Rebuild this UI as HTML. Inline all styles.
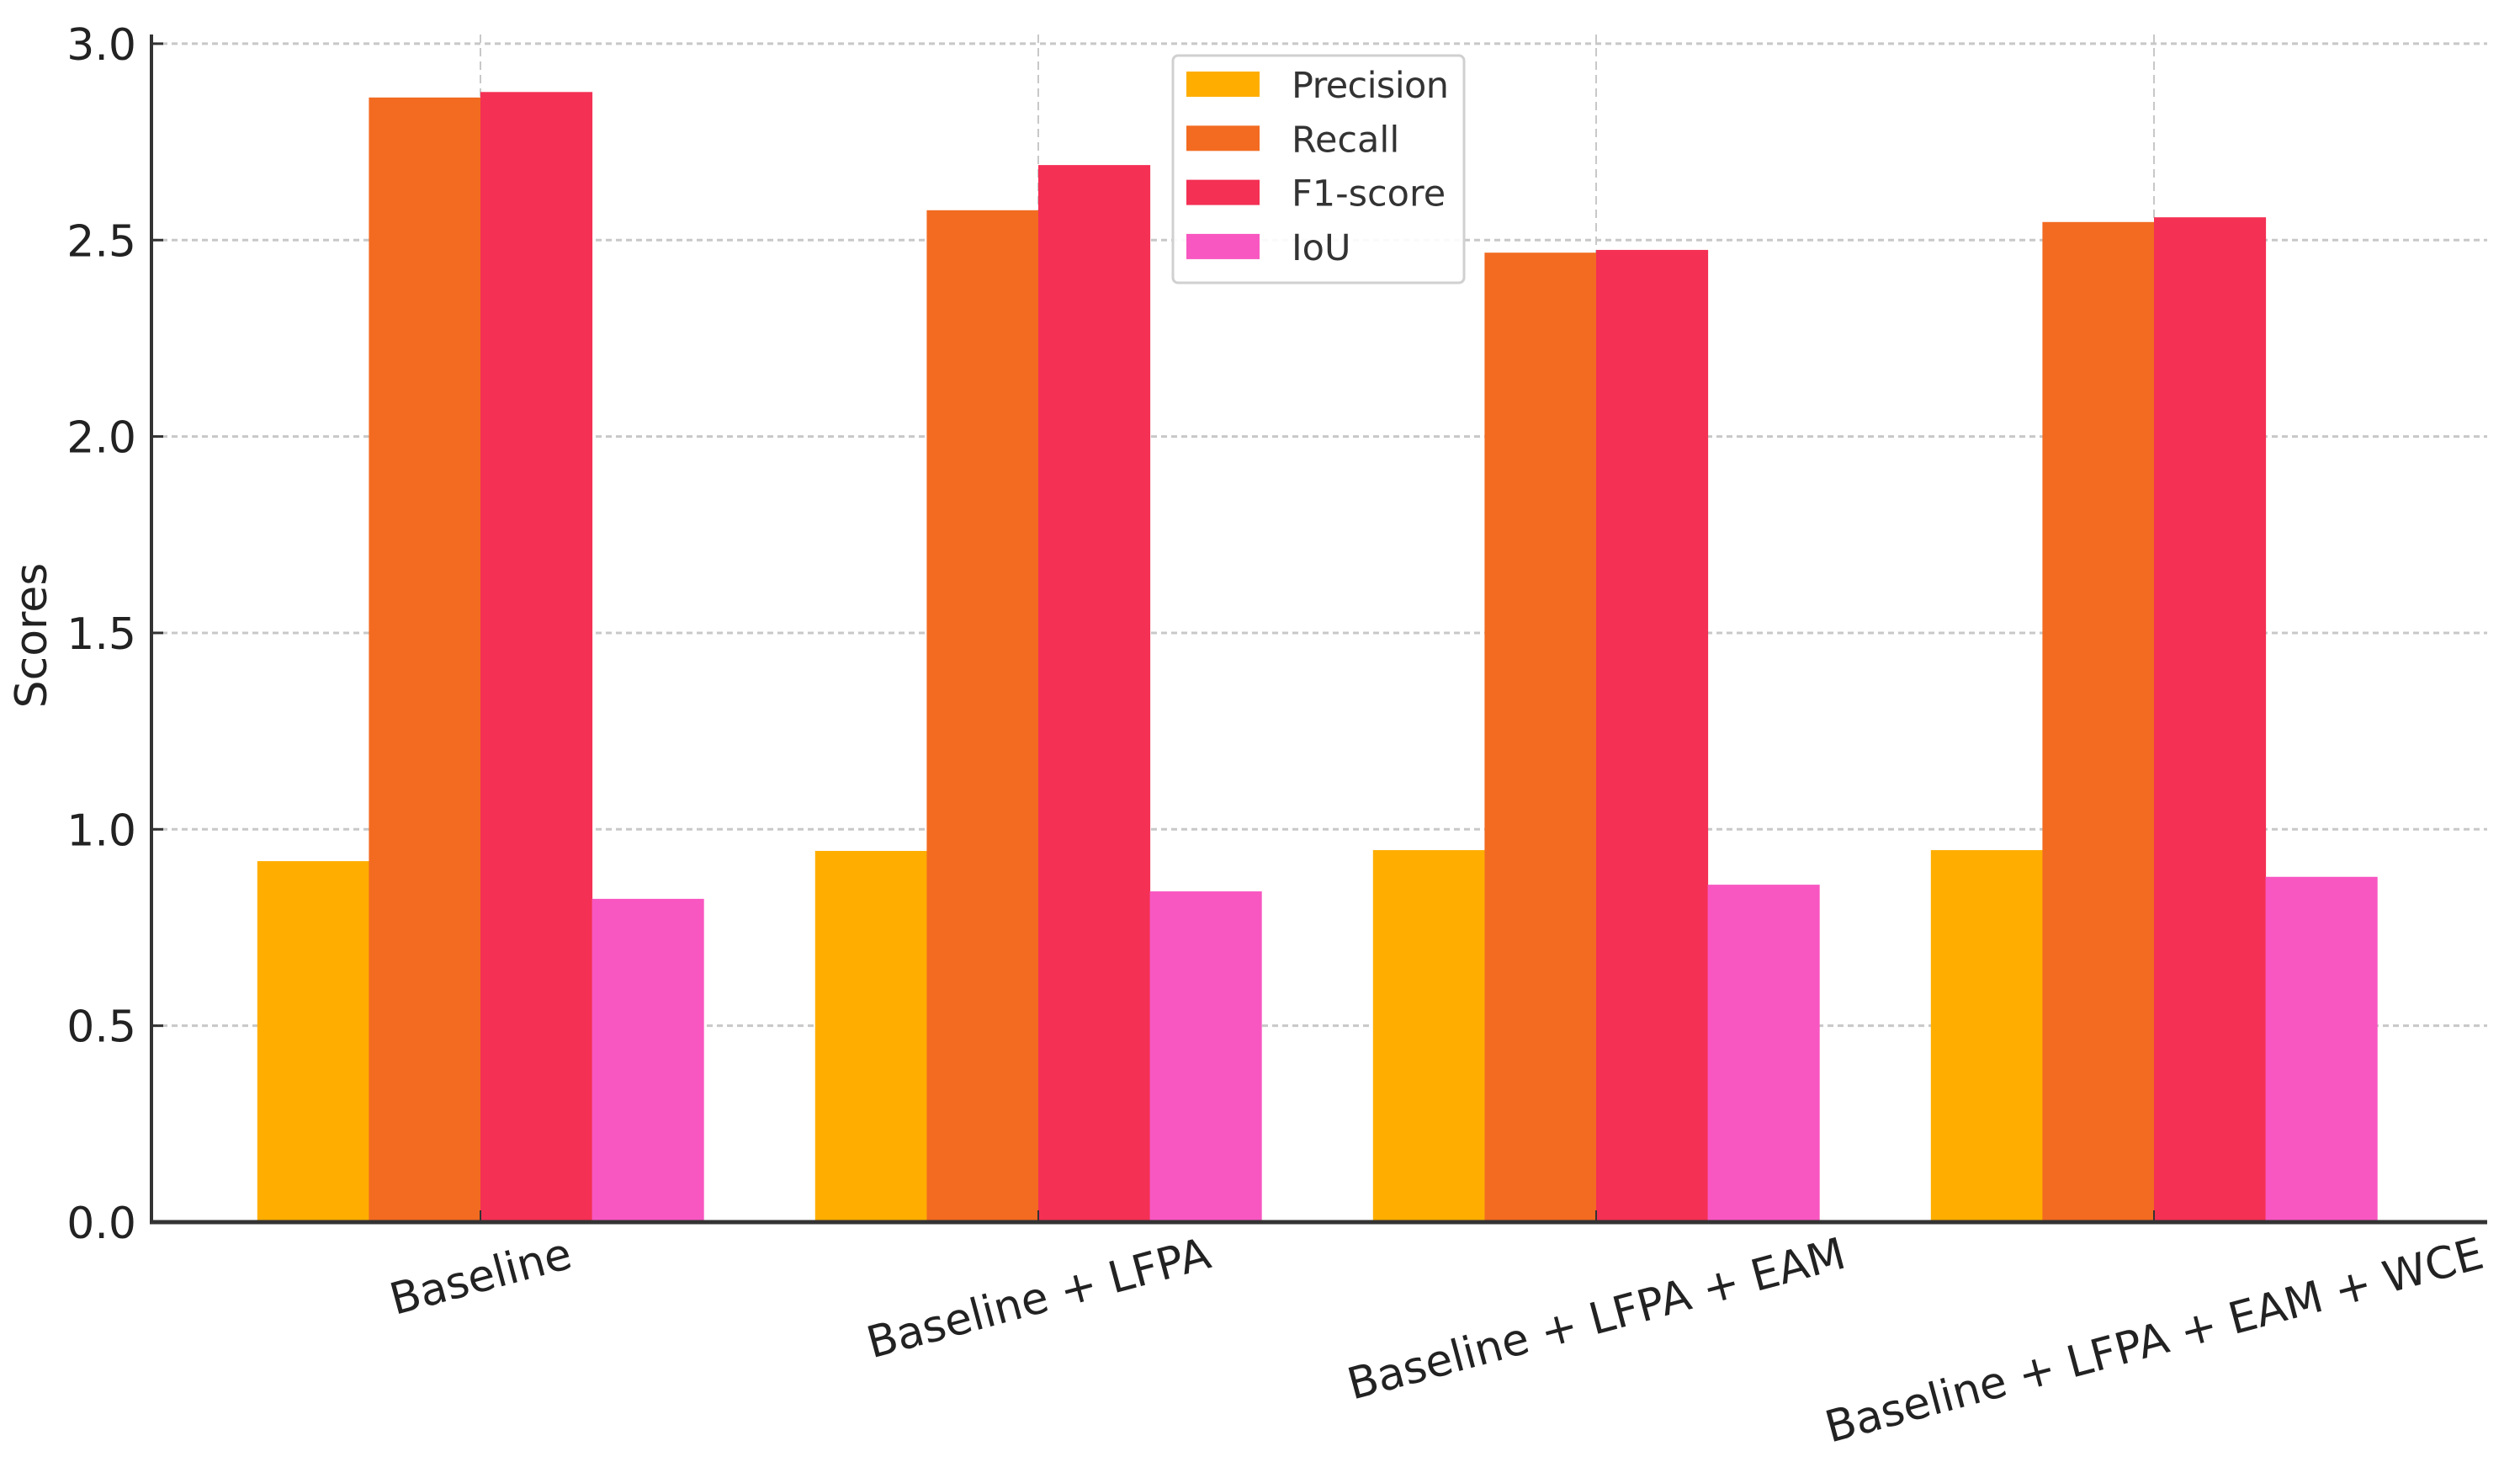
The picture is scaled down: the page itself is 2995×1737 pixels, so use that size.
<!DOCTYPE html>
<html><head><meta charset="utf-8"><style>
html,body{margin:0;padding:0;background:#fff;}
svg{display:block;font-family:"DejaVu Sans","Liberation Sans",sans-serif;}
</style></head><body>
<svg id="chart" width="2995" height="1737" viewBox="0 0 2995 1737" xmlns="http://www.w3.org/2000/svg">
<g id="grid"></g>
<g id="bars"></g>
<g id="axes"></g>
<g id="legend"></g>
<text x="0" y="0" font-size="52" fill="#222" text-anchor="middle" transform="translate(55,755) rotate(-90)">Scores</text>
</svg>
<script>
const categories = ["Baseline", "Baseline + LFPA", "Baseline + LFPA + EAM", "Baseline + LFPA + EAM + WCE"];
const seriesNames = ["Precision", "Recall", "F1-score", "IoU"];
const precision = [0.919, 0.945, 0.947, 0.947];
const recall = [2.863, 2.576, 2.468, 2.546];
const f1score = [2.877, 2.691, 2.475, 2.558];
const iou = [0.823, 0.842, 0.859, 0.879];
const yTicks = [0.0, 0.5, 1.0, 1.5, 2.0, 2.5, 3.0];
const yTickLabels = ["0.0", "0.5", "1.0", "1.5", "2.0", "2.5", "3.0"];

const series = [precision, recall, f1score, iou];
const colors = ["#FFAE00", "#F26B21", "#F43054", "#F857C1"];
const NS = "http://www.w3.org/2000/svg";
const X0 = 180, X1 = 2956, Y0 = 1452, YTOP = 41;
const pxPerUnit = 466.7;
const firstCenter = 571, spacing = 663;
const barW = spacing * 0.2;
function yScale(v){ return Y0 - v * pxPerUnit; }
function xCenter(i){ return firstCenter + i * spacing; }
function mk(tag, attrs, parent){ const e = document.createElementNS(NS, tag); for (const k in attrs) e.setAttribute(k, attrs[k]); parent.appendChild(e); return e; }

const grid = document.getElementById('grid');
const bars = document.getElementById('bars');
const axes = document.getElementById('axes');
const legend = document.getElementById('legend');

yTicks.forEach((t, i) => {
  const y = yScale(t);
  if (t > 0) {
    const gl = mk('line', {x1: X0, x2: X1, y1: y, y2: y, stroke: '#c8c8c8', 'stroke-width': 3, 'stroke-dasharray': '7,5'}, grid);
    
    
  }
  const tk = mk('line', {x1: X0, x2: X0 + 14, y1: y, y2: y, stroke: '#333', 'stroke-width': 3}, axes);
  
  
  const lb = mk('text', {x: 162, y: y + 19, 'font-size': 52, fill: '#222', 'text-anchor': 'end'}, axes);
  lb.textContent = yTickLabels[i];
  
  
});

categories.forEach((c, i) => {
  const cx = xCenter(i);
  const vl = mk('line', {x1: cx, x2: cx, y1: YTOP, y2: Y0, stroke: '#c8c8c8', 'stroke-width': 2, 'stroke-dasharray': '10,6'}, grid);
  
  
  series.forEach((s, j) => {
    const x = cx + (j - 2) * barW;
    const y = yScale(s[i]);
    const r = mk('rect', {x: x, y: y, width: barW + 0.5, height: Y0 - y, fill: colors[j]}, bars);
    
    
  });
  const tk = mk('line', {x1: cx, x2: cx, y1: Y0, y2: Y0 - 14, stroke: '#333', 'stroke-width': 2}, axes);
  
  
  const t = mk('text', {x: 0, y: 0, 'font-size': 52, fill: '#222', 'text-anchor': 'middle'}, axes);
  t.textContent = c;
  
  
  const w = t.getComputedTextLength();
  const h = 52;
  const a = 15 * Math.PI / 180;
  const cy = 1462 + (w * Math.sin(a) + h * Math.cos(a)) / 2;
  t.setAttribute('transform', 'translate(' + cx + ',' + cy + ') rotate(-15) translate(0,' + (h * 0.36) + ')');
});

const sp = mk('line', {x1: X0, x2: X0, y1: YTOP, y2: Y0 + 2, stroke: '#333', 'stroke-width': 4}, axes);


const sb = mk('line', {x1: X0 - 2, x2: X1, y1: Y0, y2: Y0, stroke: '#333', 'stroke-width': 5}, axes);



const box = mk('rect', {x: 1394, y: 66, width: 346, height: 270, rx: 6, fill: '#fff', 'fill-opacity': 0.9, stroke: '#d0d0d0', 'stroke-width': 3}, legend);


seriesNames.forEach((n, j) => {
  const cy = 100 + j * 64.3;
  const sw = mk('rect', {x: 1410, y: cy - 15, width: 87, height: 30, fill: colors[j]}, legend);
  
  
  const lt = mk('text', {x: 1535, y: cy + 16, 'font-size': 43, fill: '#333', textLength: n === 'Precision' ? 187 : null}, legend);
  if (n !== 'Precision') lt.removeAttribute('textLength');
  lt.textContent = n;
  
  
});
</script>
</body></html>
